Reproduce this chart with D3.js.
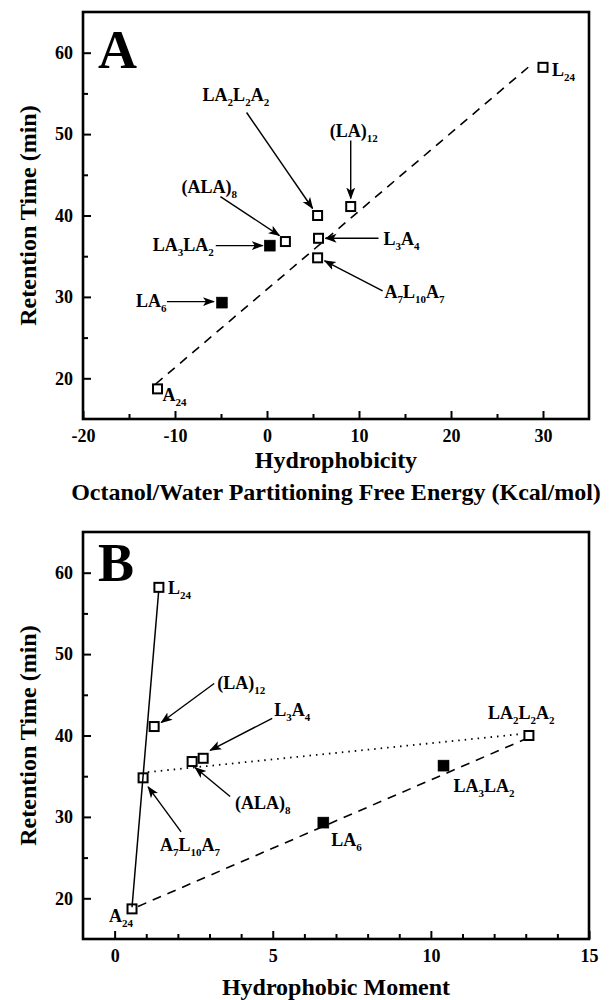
<!DOCTYPE html>
<html>
<head>
<meta charset="utf-8">
<script src="https://cdn.jsdelivr.net/npm/d3@7/dist/d3.min.js"></script>
<style>
  html, body { margin: 0; padding: 0; background: #fff; }
  svg { display: block; }
  text { font-family: "Liberation Serif", "Times New Roman", serif; font-weight: bold; fill: #000; }
</style>
</head>
<body>
<svg id="chart" width="610" height="1000"></svg>
<script>
// Peptides (subscripts written in braces)
const peptides = ["L{24}", "A{24}", "(LA){12}", "LA{2}L{2}A{2}", "L{3}A{4}", "(ALA){8}", "A{7}L{10}A{7}", "LA{3}LA{2}", "LA{6}"];
const markerType = ["open", "open", "open", "open", "open", "open", "open", "filled", "filled"];
// Retention time (min)
const retentionTime = [58.2, 18.7, 41.1, 40.0, 37.2, 36.8, 34.8, 36.3, 29.3];
// Octanol/water partitioning free energy (kcal/mol)
const hydrophobicity = [30.0, -11.9, 9.1, 5.5, 5.6, 2.0, 5.5, 0.3, -4.9];
// Hydrophobic moment
const hydrophobicMoment = [1.4, 0.55, 1.25, 13.1, 2.8, 2.45, 0.9, 10.4, 6.6];

// Trend lines
const trendA_x = [-12.1, 28.9];
const trendA_y = [19.3, 58.7];
const trendBsolid_x = [0.55, 1.39];
const trendBsolid_y = [18.9, 57.6];
const trendBdotted_x = [1.05, 12.9];
const trendBdotted_y = [35.5, 40.2];
const trendBdashed_x = [0.74, 12.95];
const trendBdashed_y = [19.0, 39.5];

// Axis ticks
const yMajor = [20, 30, 40, 50, 60];
const yMinor = [25, 35, 45, 55];
const xMajorA = [-20, -10, 0, 10, 20, 30];
const xMinorA = [-15, -5, 5, 15, 25];
const xMajorB = [0, 5, 10, 15];
const xMinorB = [1, 2, 3, 4, 6, 7, 8, 9, 11, 12, 13, 14];

const svg = d3.select("#chart");

svg.append("defs").append("marker")
  .attr("id", "arrowhead")
  .attr("markerUnits", "userSpaceOnUse")
  .attr("viewBox", "0 0 12 10")
  .attr("refX", 11).attr("refY", 5)
  .attr("markerWidth", 12).attr("markerHeight", 10)
  .attr("orient", "auto")
  .append("path")
  .attr("d", "M0,0.5 L12,5 L0,9.5 L3,5 Z")
  .attr("fill", "#000");

function addLabel(g, markup, x, y) {
  const t = g.append("text").attr("x", x).attr("y", y).attr("font-size", 18);
  const parts = markup.split(/(\{[^}]*\})/).filter(s => s.length);
  let inSub = false;
  parts.forEach(p => {
    if (p.startsWith("{")) {
      t.append("tspan").attr("font-size", 11).attr("dy", 5).text(p.slice(1, -1));
      inSub = true;
    } else {
      const ts = t.append("tspan").text(p);
      if (inSub) ts.attr("dy", -5);
      inSub = false;
    }
  });
}

const plainNumber = d => String(d);

function drawPanel(cfg) {
  const g = svg.append("g");
  const x = d3.scaleLinear().domain(cfg.xDomain).range([83, 589]);
  const y = d3.scaleLinear().domain([15, 65]).range([cfg.bottom, cfg.top]);

  // ticks (pointing inward)
  const axStyle = sel => {
    sel.select(".domain").remove();
    sel.selectAll(".tick line").attr("stroke", "#000").attr("stroke-width", 2);
    sel.selectAll(".tick text").attr("font-size", 18)
      .attr("font-family", "Liberation Serif, serif").attr("font-weight", "bold");
  };
  g.append("g").attr("transform", `translate(0,${cfg.bottom})`)
    .call(d3.axisBottom(x).tickValues(cfg.xMinor).tickSize(-5).tickFormat(""))
    .call(axStyle);
  g.append("g").attr("transform", `translate(0,${cfg.bottom})`)
    .call(d3.axisBottom(x).tickValues(cfg.xMajor).tickSize(-8).tickPadding(10).tickFormat(plainNumber))
    .call(axStyle);
  g.append("g").attr("transform", "translate(83,0)")
    .call(d3.axisLeft(y).tickValues(yMinor).tickSize(-5).tickFormat(""))
    .call(axStyle);
  g.append("g").attr("transform", "translate(83,0)")
    .call(d3.axisLeft(y).tickValues(yMajor).tickSize(-8).tickPadding(10).tickFormat(plainNumber))
    .call(axStyle);

  // frame
  g.append("rect")
    .attr("x", 83).attr("y", cfg.top)
    .attr("width", 589 - 83).attr("height", cfg.bottom - cfg.top)
    .attr("fill", "none").attr("stroke", "#000").attr("stroke-width", 2.6);

  // trend lines
  cfg.trends.forEach(tr => {
    const pts = tr.xs.map((v, i) => [x(v), y(tr.ys[i])]);
    g.append("path")
      .attr("d", d3.line()(pts))
      .attr("fill", "none").attr("stroke", "#000")
      .attr("stroke-width", tr.width)
      .attr("stroke-dasharray", tr.dash)
      .attr("stroke-linecap", tr.cap || "butt");
  });

  // markers
  peptides.forEach((p, i) => {
    const cx = x(cfg.xs[i]), cy = y(retentionTime[i]);
    const filled = markerType[i] === "filled";
    const s = filled ? 11 : 9;
    g.append("rect")
      .attr("x", cx - s / 2).attr("y", cy - s / 2)
      .attr("width", s).attr("height", s)
      .attr("fill", filled ? "#000" : "none")
      .attr("stroke", "#000").attr("stroke-width", filled ? 0.5 : 2);
  });

  // annotations
  peptides.forEach((p, i) => {
    const cx = x(cfg.xs[i]), cy = y(retentionTime[i]);
    const a = cfg.notes[i];
    if (a.arrow) {
      g.append("line")
        .attr("x1", cx + a.arrow[0]).attr("y1", cy + a.arrow[1])
        .attr("x2", cx + a.arrow[2]).attr("y2", cy + a.arrow[3])
        .attr("stroke", "#000").attr("stroke-width", 1.4)
        .attr("marker-end", "url(#arrowhead)");
    }
    addLabel(g, p, cx + a.label[0], cy + a.label[1]);
  });

  // panel letter
  g.append("text").attr("x", 98).attr("y", cfg.letterY)
    .attr("font-size", 54).text(cfg.letter);

  // y title
  const midY = (cfg.top + cfg.bottom) / 2;
  g.append("text")
    .attr("transform", `translate(36,${midY}) rotate(-90)`)
    .attr("text-anchor", "middle").attr("font-size", 24)
    .text("Retention Time (min)");

  // x titles
  cfg.xTitles.forEach(t => {
    g.append("text").attr("x", 336).attr("y", t.y)
      .attr("text-anchor", "middle").attr("font-size", 24).text(t.text);
  });
}

drawPanel({
  letter: "A", letterY: 68,
  top: 12, bottom: 419,
  xDomain: [-20, 35], xMajor: xMajorA, xMinor: xMinorA,
  xs: hydrophobicity,
  trends: [{ xs: trendA_x, ys: trendA_y, width: 1.6, dash: "9,7" }],
  notes: [
    { label: [9, 9] },
    { label: [5, 12] },
    { label: [-21, -70], arrow: [0, -66, 0, -8] },
    { label: [-115, -115], arrow: [-71, -103, -5, -7] },
    { label: [65, 7], arrow: [60, 0, 7, 0] },
    { label: [-104, -49], arrow: [-65, -45, -6, -6] },
    { label: [67, 40], arrow: [65, 33, 7, 3] },
    { label: [-117, 5], arrow: [-54, 0, -7, 0] },
    { label: [-86, 4], arrow: [-55, -1, -8, -1] }
  ],
  xTitles: [
    { text: "Hydrophobicity", y: 468 },
    { text: "Octanol/Water Partitioning Free Energy (Kcal/mol)", y: 500 }
  ]
});

drawPanel({
  letter: "B", letterY: 581,
  top: 532, bottom: 939,
  xDomain: [-1, 15], xMajor: xMajorB, xMinor: xMinorB,
  xs: hydrophobicMoment,
  trends: [
    { xs: trendBsolid_x, ys: trendBsolid_y, width: 1.5, dash: null },
    { xs: trendBdotted_x, ys: trendBdotted_y, width: 1.8, dash: "1.5,5" },
    { xs: trendBdashed_x, ys: trendBdashed_y, width: 1.6, dash: "9,7" }
  ],
  notes: [
    { label: [9, 7] },
    { label: [-23, 13] },
    { label: [63, -38], arrow: [60, -43, 7, -4] },
    { label: [-41, -17] },
    { label: [71, -42], arrow: [69, -40, 7, -8] },
    { label: [43, 47], arrow: [38, 35, 3, 6] },
    { label: [17, 73], arrow: [38, 54, 5, 9] },
    { label: [10, 26] },
    { label: [8, 23] }
  ],
  xTitles: [
    { text: "Hydrophobic Moment", y: 995 }
  ]
});
</script>
</body>
</html>
